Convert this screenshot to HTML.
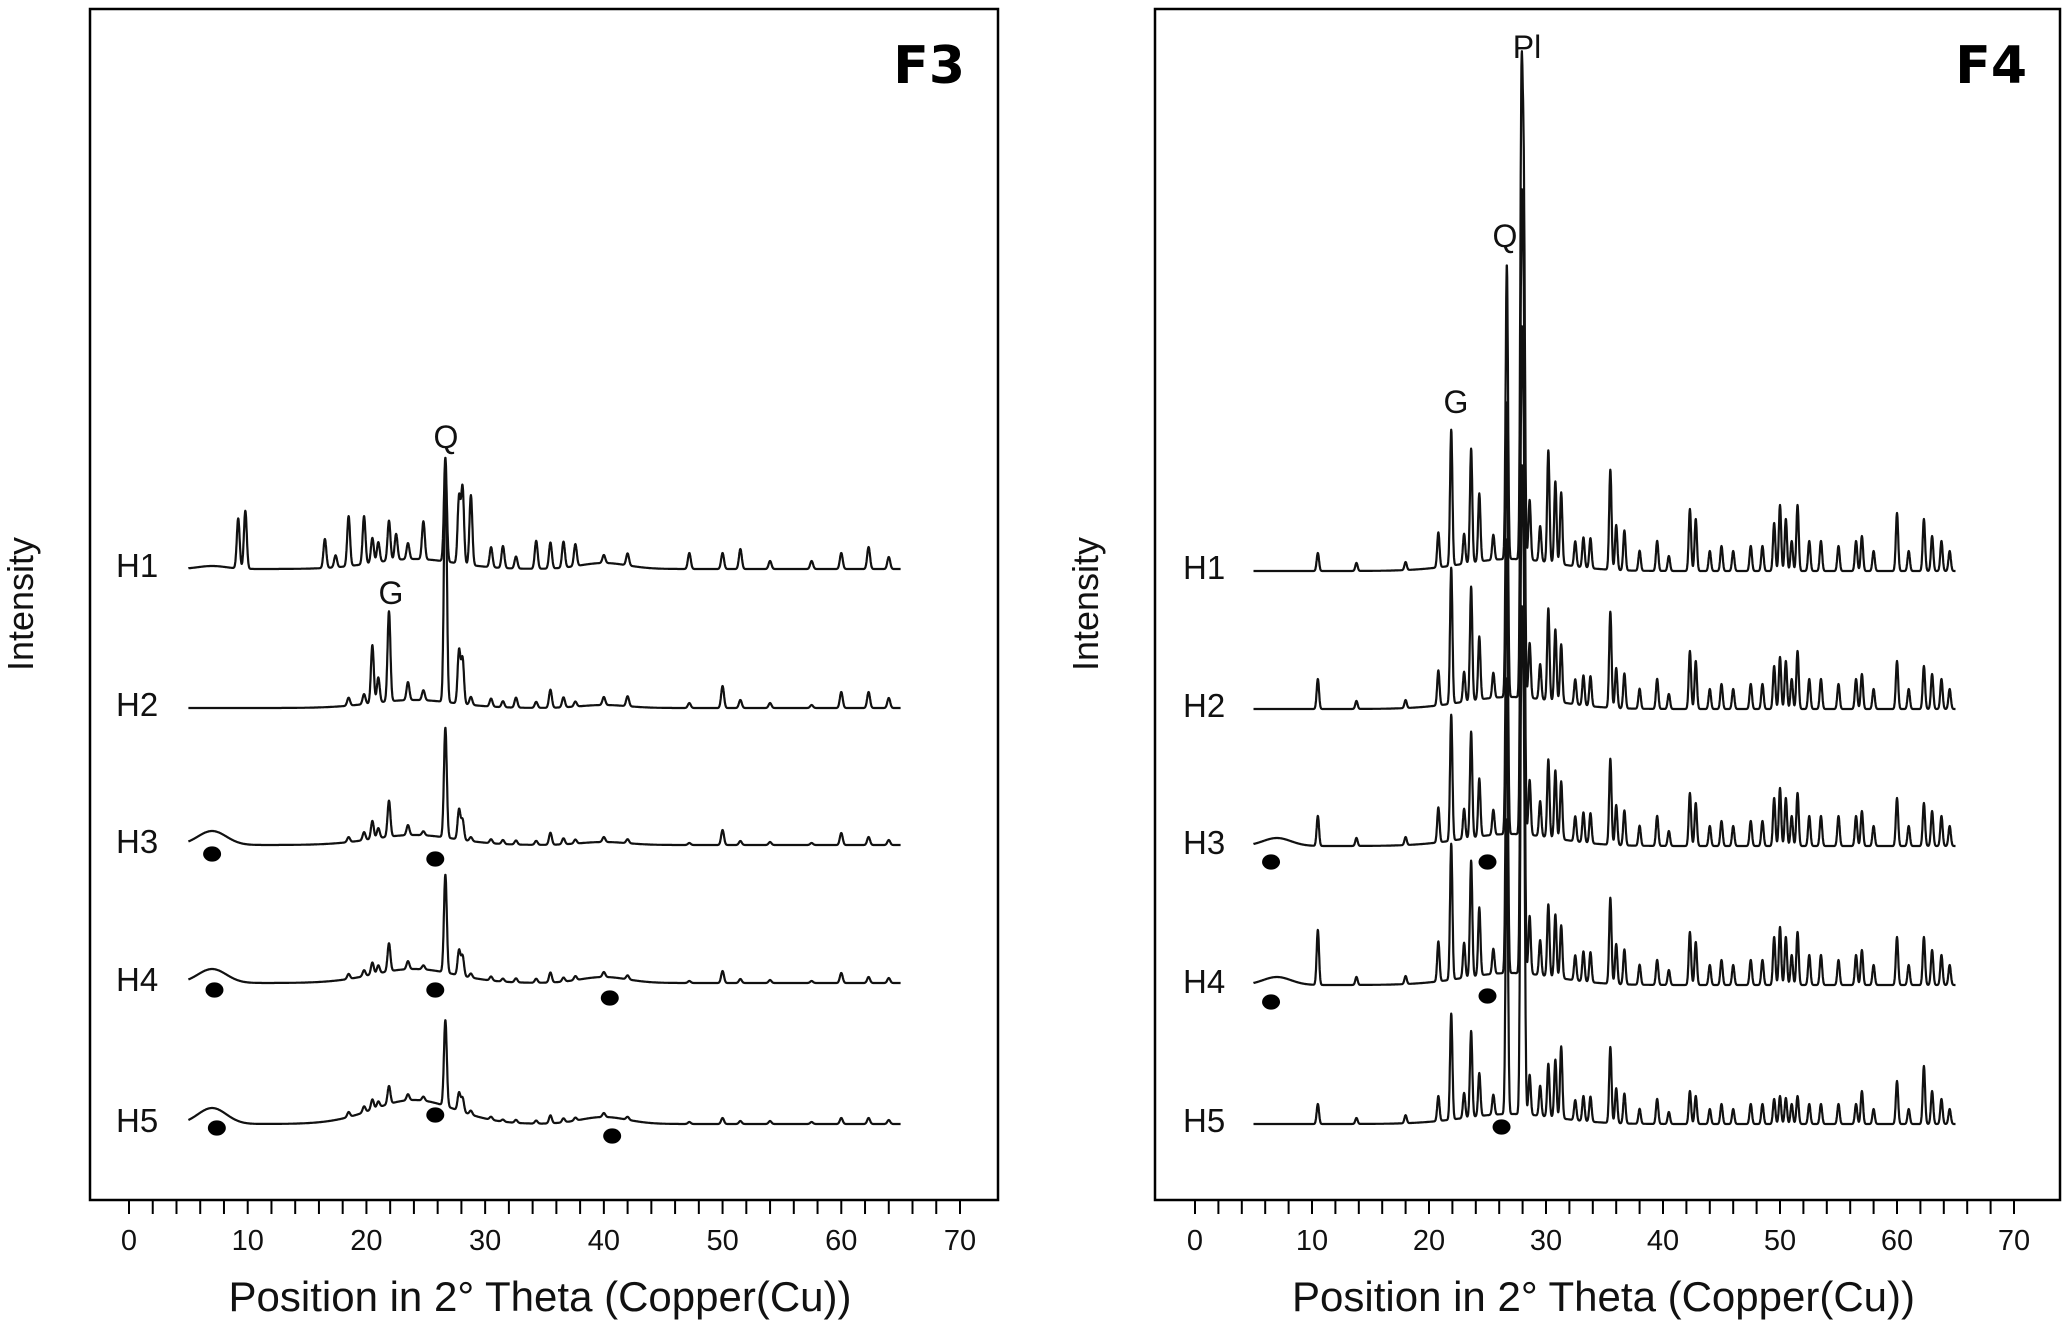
<!DOCTYPE html>
<html><head><meta charset="utf-8">
<style>
html,body{margin:0;padding:0;background:#fff;}
svg{display:block;font-family:"Liberation Sans",sans-serif;}
</style></head>
<body>
<svg id="chart" width="2067" height="1329" viewBox="0 0 2067 1329" xmlns="http://www.w3.org/2000/svg">
<rect x="0" y="0" width="2067" height="1329" fill="#fff"/>
<defs>
<clipPath id="clip-f3"><rect x="90" y="9" width="908" height="1191"/></clipPath>
<clipPath id="clip-f4"><rect x="1155" y="9" width="905" height="1191"/></clipPath>
</defs>
</svg>
<script>
// ---- Data ----
const sampleLabels = ["H1","H2","H3","H4","H5"];
const xTicks = [0,10,20,30,40,50,60,70];

// F3 panel
const f3PeakPos = [9.2,9.8,16.5,17.4,18.5,19.8,20.5,21.0,21.9,22.5,23.5,24.8,26.65,27.8,28.1,28.8,30.5,31.5,32.6,34.3,35.5,36.6,37.6,40,42,47.2,50,51.5,54,57.5,60,62.3,64];
const f3H1 = [50,58,29,12,50,48,25,20,40,26,16,38,104,66,76,70,20,22,12,28,26,26,22,8,12,16,16,20,8,8,16,22,12];
const f3H2 = [0,0,0,0,8,10,58,25,90,0,18,10,240,53,45,8,8,6,10,6,18,10,5,8,10,5,22,8,5,3,16,16,10];
const f3H3 = [0,0,0,0,5,8,18,10,36,0,10,4,110,30,20,4,4,4,4,4,12,6,4,5,4,2,15,4,3,2,12,8,5];
const f3H4 = [0,0,0,0,5,6,12,8,28,0,8,4,98,25,20,4,4,3,4,4,10,4,4,5,4,2,12,4,3,2,10,6,5];
const f3H5 = [0,0,0,0,5,6,10,6,18,0,6,4,86,18,14,4,3,2,3,3,8,4,3,4,3,2,6,3,3,2,6,6,4];
const f3HumpPos = [7,24,40];
const f3HumpSd = [1.2,3.5,2];
const f3HumpH1 = [3,10,6];
const f3HumpH2 = [0,8,3];
const f3HumpH3 = [14,10,3];
const f3HumpH4 = [14,14,6];
const f3HumpH5 = [16,24,7];
const f3Dots = [[3,7,854],[3,25.8,859],[4,7.2,990],[4,25.8,990],[4,40.5,998],[5,7.4,1128],[5,25.8,1115],[5,40.7,1136]];

// F4 panel
const f4PeakPos = [10.5,13.8,18,20.8,21.9,23,23.6,24.3,25.5,26.65,27.9,28.1,28.6,29.5,30.2,30.8,31.3,32.5,33.2,33.8,35.5,36,36.7,38,39.5,40.5,42.3,42.8,44,45,46,47.5,48.5,49.5,50,50.5,51,51.5,52.5,53.5,55,56.5,57,58,60,61,62.3,63,63.8,64.5];
const f4H1 = [18,8,8,35,136,30,114,68,25,295,445,350,60,35,112,82,72,25,30,30,100,45,40,20,30,15,62,52,20,25,20,25,25,48,66,52,30,66,30,30,25,30,35,20,58,20,52,35,30,20];
const f4H2 = [30,8,8,35,136,30,114,63,25,296,445,350,55,35,92,72,58,25,30,30,96,40,35,20,30,15,58,48,20,25,20,25,25,43,52,48,30,58,30,30,25,30,35,20,48,20,43,35,30,20];
const f4H3 = [30,8,8,35,126,30,106,58,25,296,445,350,55,35,78,68,58,25,30,30,86,40,35,20,30,15,53,43,20,25,20,25,25,48,58,48,30,53,30,30,30,30,35,20,48,20,43,35,30,20];
const f4H4 = [55,8,8,40,136,35,116,68,25,296,445,350,58,35,72,63,53,25,30,30,86,40,35,20,25,15,53,43,20,25,20,25,25,48,58,48,30,53,30,30,25,30,35,20,48,20,48,35,30,20];
const f4H5 = [20,6,8,25,106,25,86,43,20,296,445,350,40,30,53,58,72,20,25,25,76,35,30,15,25,12,33,28,15,20,15,20,20,25,28,26,20,28,20,20,20,20,33,15,43,15,58,33,25,15];
const f4HumpPos = [7,27];
const f4HumpSd = [1.2,4];
const f4HumpH1 = [0,12];
const f4HumpH2 = [0,12];
const f4HumpH3 = [8,12];
const f4HumpH4 = [8,12];
const f4HumpH5 = [0,10];
const f4Dots = [[3,6.5,862],[3,25,862],[4,6.5,1002],[4,25,996],[5,26.2,1127]];

// ---- Drawing ----
const NS="http://www.w3.org/2000/svg";
const svg=document.getElementById('chart');
function mk(tag,attrs,parent){const e=document.createElementNS(NS,tag);for(const k in attrs)e.setAttribute(k,attrs[k]);(parent||svg).appendChild(e);return e;}

const panels=[
 {name:'f3',title:'F3',box:[90,9,908,1191],x0:129,x70:960,titleX:965,labelX:116,
  base:[569,708,845,983,1124],pos:f3PeakPos,heights:[f3H1,f3H2,f3H3,f3H4,f3H5],
  humpPos:f3HumpPos,humpSd:f3HumpSd,humps:[f3HumpH1,f3HumpH2,f3HumpH3,f3HumpH4,f3HumpH5],dots:f3Dots,dotR:9,
  ann:[['Q',446,448],['G',391,604]],sd:0.12},
 {name:'f4',title:'F4',box:[1155,9,905,1191],x0:1195,x70:2014,titleX:2027,labelX:1183,
  base:[571,709,846,985,1124],pos:f4PeakPos,heights:[f4H1,f4H2,f4H3,f4H4,f4H5],
  humpPos:f4HumpPos,humpSd:f4HumpSd,humps:[f4HumpH1,f4HumpH2,f4HumpH3,f4HumpH4,f4HumpH5],dots:f4Dots,dotR:9,
  ann:[['Pl',1527,58],['Q',1505,247],['G',1456,413]],sd:0.1}
];

panels.forEach(p=>{
  const g=mk('g',{});
  
  
  const xs=v=>p.x0+(p.x70-p.x0)*v/70;
  const r=mk('rect',{x:p.box[0],y:p.box[1],width:p.box[2],height:p.box[3],fill:'none',stroke:'#000','stroke-width':2.5},g);
  
  
  const by=p.box[1]+p.box[3];
  for(let v=0;v<=70;v+=2){
    const t=mk('line',{x1:xs(v),x2:xs(v),y1:by,y2:by+14,stroke:'#000','stroke-width':2},g);
    
    
  }
  xTicks.forEach(v=>{
    const t=mk('text',{x:xs(v),y:1250,'font-size':29,'text-anchor':'middle',fill:'#111'},g);
    t.textContent=v;
    
    
  });
  const xt=mk('text',{x:(p.box[0]+p.box[0]+p.box[2])/2-4,y:1311,'font-size':42,'text-anchor':'middle',fill:'#111'},g);
  xt.textContent='Position in 2° Theta (Copper(Cu))';
  
  
  const yx=p.box[0]-57, yy=604;
  const yt=mk('text',{x:yx,y:yy,'font-size':36,'text-anchor':'middle',fill:'#111',transform:`rotate(-90 ${yx} ${yy})`},g);
  yt.textContent='Intensity';
  
  
  const tt=mk('text',{x:p.titleX,y:83,'font-size':52,'font-weight':'bold','text-anchor':'end',fill:'#000','font-family':'DejaVu Sans, sans-serif'},g);
  tt.textContent=p.title;
  
  
  const tg=mk('g',{'clip-path':'url(#clip-'+p.name+')'},g);
  
  
  sampleLabels.forEach((lab,i)=>{
    const hs=p.heights[i], hm=p.humps[i];
    let d='';
    for(let k=0;k<=3000;k++){
      const x=5+60*k/3000;
      let y=0;
      for(let j=0;j<p.pos.length;j++){if(hs[j]){const z=(x-p.pos[j])/p.sd;if(Math.abs(z)<6)y+=hs[j]*Math.exp(-0.5*z*z);}}
      for(let j=0;j<p.humpPos.length;j++){if(hm[j]){const z=(x-p.humpPos[j])/p.humpSd[j];y+=hm[j]*Math.exp(-0.5*z*z);}}
      d+=(k?'L':'M')+xs(x).toFixed(1)+' '+(p.base[i]-y).toFixed(1);
    }
    const path=mk('path',{d:d,fill:'none',stroke:'#111','stroke-width':2.2,'stroke-linejoin':'round'},tg);
    
    
    const lt=mk('text',{x:p.labelX,y:p.base[i]+8,'font-size':33,fill:'#111'},g);
    lt.textContent=lab;
    
    
  });
  p.dots.forEach(dt=>{
    const c=mk('ellipse',{cx:xs(dt[1]),cy:dt[2],rx:p.dotR,ry:p.dotR*0.85,fill:'#000'},g);
    
    
  });
  p.ann.forEach(a=>{
    const t=mk('text',{x:a[1],y:a[2],'font-size':32,'text-anchor':'middle',fill:'#111'},g);
    t.textContent=a[0];
    
    
  });
});
</script>
</body></html>
